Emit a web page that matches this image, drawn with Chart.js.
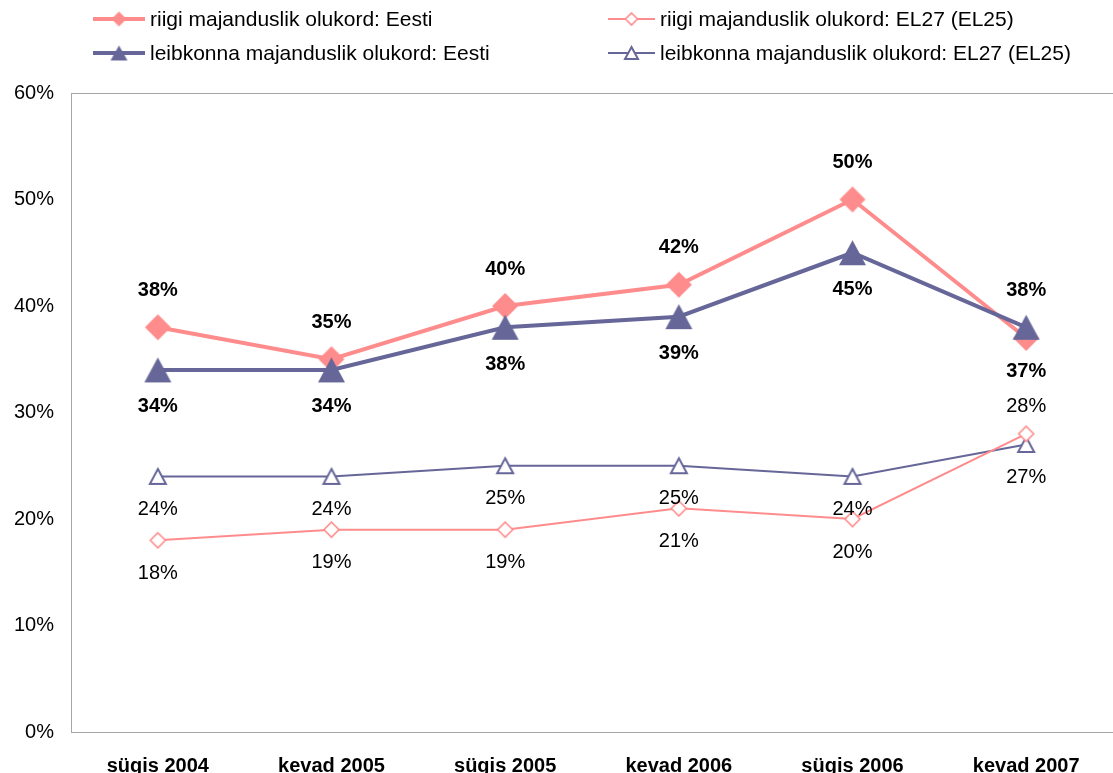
<!DOCTYPE html>
<html>
<head>
<meta charset="utf-8">
<script src="https://cdn.jsdelivr.net/npm/chart.js@4.4.1/dist/chart.umd.min.js"></script>
<style>
  html, body { margin: 0; padding: 0; background: #fff; overflow: hidden; }
  canvas { display: block; }
</style>
</head>
<body>
<canvas id="chart" width="1113" height="773"></canvas>
<script>
// andmed
const perioodid = ['sügis 2004', 'kevad 2005', 'sügis 2005', 'kevad 2006', 'sügis 2006', 'kevad 2007'];
const riigiEesti = [38, 35, 40, 42, 50, 37];
const riigiEL = [18, 19, 19, 21, 20, 28];
const leibkonnaEesti = [34, 34, 38, 39, 45, 38];
const leibkonnaEL = [24, 24, 25, 25, 24, 27];
const yTicks = [0, 10, 20, 30, 40, 50, 60];

const ROOSA = '#ff8c8c';
const LILLA = '#666699';
const FONT = '"Liberation Sans", Arial, sans-serif';
const FS = 20;

// labels: 'a' = above, 'b' = below
const sildiAsend = [
  ['a', 'a', 'a', 'a', 'a', 'b'],
  ['b', 'b', 'b', 'b', 'b', 'a'],
  ['b', 'b', 'b', 'b', 'b', 'a'],
  ['b', 'b', 'b', 'b', 'b', 'b']
];

// marker images (bounding box centred on the point, like Excel)
function marker(kuju, w, h, fill, stroke, lw) {
  const c = document.createElement('canvas');
  const pad = Math.ceil(lw) + 1;
  c.width = w + pad * 2;
  c.height = h + pad * 2;
  const g = c.getContext('2d');
  g.translate(pad, pad);
  g.beginPath();
  if (kuju === 'romb') {
    g.moveTo(w / 2, 0); g.lineTo(w, h / 2); g.lineTo(w / 2, h); g.lineTo(0, h / 2);
  } else {
    g.moveTo(w / 2, 0); g.lineTo(w, h); g.lineTo(0, h);
  }
  g.closePath();
  g.fillStyle = fill;
  g.fill();
  if (lw > 0) {
    g.strokeStyle = stroke;
    g.lineWidth = lw;
    g.lineJoin = 'miter';
    g.stroke();
  }
  return c;
}

const datasets = [
  {
    label: 'riigi majanduslik olukord: Eesti',
    data: riigiEesti,
    borderColor: ROOSA, backgroundColor: ROOSA,
    borderWidth: 4, pointStyle: marker('romb', 26, 26, ROOSA, ROOSA, 0),
    legendMarker: marker('romb', 15, 15, ROOSA, ROOSA, 0),
    bold: true, order: 2, gap: [37, 34]
  },
  {
    label: 'leibkonna majanduslik olukord: Eesti',
    data: leibkonnaEesti,
    borderColor: LILLA, backgroundColor: LILLA,
    borderWidth: 4, pointStyle: marker('kolm', 27, 25, LILLA, LILLA, 0),
    legendMarker: marker('kolm', 17, 15, LILLA, LILLA, 0),
    bold: true, order: 1, gap: [37, 37]
  },
  {
    label: 'riigi majanduslik olukord: EL27 (EL25)',
    data: riigiEL,
    borderColor: ROOSA, backgroundColor: '#fff',
    borderWidth: 2, pointStyle: marker('romb', 15, 15, '#fff', ROOSA, 1.6),
    legendMarker: marker('romb', 12, 12, '#fff', ROOSA, 1.6),
    bold: false, order: 3, gap: [27, 33]
  },
  {
    label: 'leibkonna majanduslik olukord: EL27 (EL25)',
    data: leibkonnaEL,
    borderColor: LILLA, backgroundColor: '#fff',
    borderWidth: 2, pointStyle: marker('kolm', 16, 15, '#fff', LILLA, 2),
    legendMarker: marker('kolm', 13, 12, '#fff', LILLA, 2),
    bold: false, order: 4, gap: [33, 33]
  }
];
datasets.forEach(d => {
  d.tension = 0;
  d.pointRadius = 10;
  d.pointHoverRadius = 10;
  d.clip = false;
});

const raamPlugin = {
  id: 'raam',
  beforeDatasetsDraw(chart) {
    const a = chart.chartArea;
    const ctx = chart.ctx;
    ctx.save();
    ctx.strokeStyle = '#a6a6a6';
    ctx.lineWidth = 1;
    ctx.strokeRect(a.left + 0.5, a.top + 0.5, a.right - a.left, a.bottom - a.top);
    ctx.restore();
  }
};

const sildidPlugin = {
  id: 'sildid',
  afterDatasetsDraw(chart) {
    const ctx = chart.ctx;
    ctx.save();
    ctx.textAlign = 'center';
    ctx.textBaseline = 'middle';
    ctx.fillStyle = '#000';
    chart.data.datasets.forEach((ds, di) => {
      const meta = chart.getDatasetMeta(di);
      ctx.font = (ds.bold ? 'bold ' : '') + FS + 'px ' + FONT;
      meta.data.forEach((pt, i) => {
        const up = sildiAsend[di][i] === 'a';
        const dy = up ? -ds.gap[0] : ds.gap[1];
        ctx.fillText(ds.data[i] + '%', pt.x, pt.y + dy);
      });
    });
    ctx.restore();
  }
};

const legendPlugin = {
  id: 'omaLegend',
  afterDraw(chart) {
    const ctx = chart.ctx;
    const kohad = [
      { x: 93, y: 19, w: 52, tx: 150 },
      { x: 93, y: 53, w: 52, tx: 150 },
      { x: 608, y: 19, w: 47, tx: 660 },
      { x: 608, y: 53, w: 47, tx: 660 }
    ];
    ctx.save();
    chart.data.datasets.forEach((ds, i) => {
      const k = kohad[i];
      ctx.strokeStyle = ds.borderColor;
      ctx.lineWidth = ds.borderWidth;
      ctx.beginPath();
      ctx.moveTo(k.x, k.y);
      ctx.lineTo(k.x + k.w, k.y);
      ctx.stroke();
      const m = ds.legendMarker;
      ctx.drawImage(m, k.x + k.w / 2 - m.width / 2, k.y - m.height / 2);
      ctx.fillStyle = '#000';
      ctx.font = '21px ' + FONT;
      ctx.textAlign = 'left';
      ctx.textBaseline = 'middle';
      ctx.fillText(ds.label, k.tx, k.y + 1);
    });
    ctx.restore();
  }
};

new Chart(document.getElementById('chart'), {
  type: 'line',
  data: { labels: perioodid, datasets: datasets },
  options: {
    responsive: false,
    animation: false,
    layout: { autoPadding: false, padding: { top: 93, right: 0, left: 0, bottom: 0 } },
    plugins: {
      legend: { display: false },
      tooltip: { enabled: false }
    },
    scales: {
      x: {
        offset: true,
        grid: { display: false, drawTicks: false },
        border: { display: false },
        ticks: {
          color: '#000',
          font: { family: FONT, size: FS, weight: 'bold' },
          padding: 22,
          maxRotation: 0
        },
        afterFit(scale) { scale.height = 41; }
      },
      y: {
        min: 0, max: 60,
        afterBuildTicks(scale) { scale.ticks = yTicks.map(v => ({ value: v })); },
        grid: { display: false, drawTicks: false },
        border: { display: false },
        ticks: {
          color: '#000',
          font: { family: FONT, size: FS },
          padding: 17,
          callback: v => v + '%'
        },
        afterFit(scale) { scale.width = 71; }
      }
    }
  },
  plugins: [raamPlugin, sildidPlugin, legendPlugin]
});
</script>
</body>
</html>
